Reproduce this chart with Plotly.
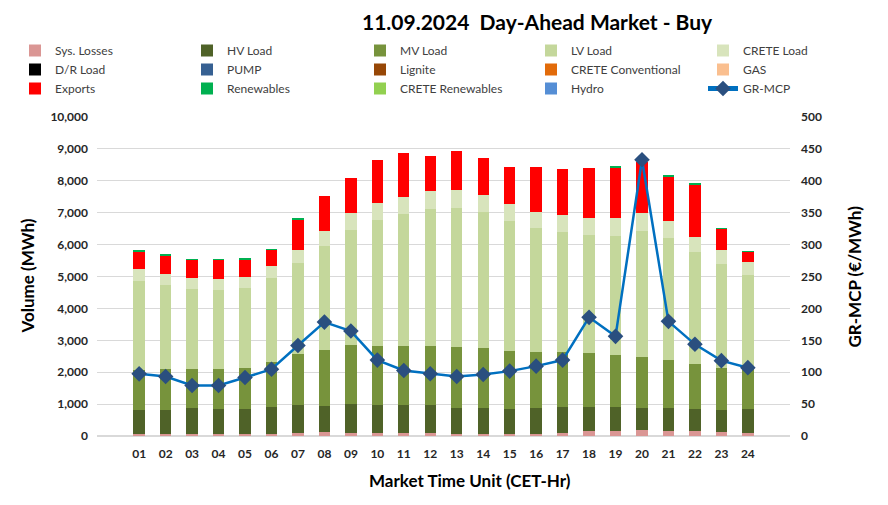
import plotly.graph_objects as go

hours = [f"{h:02d}" for h in range(1, 25)]

sys_losses = [55, 55, 55, 55, 55, 60, 90, 110, 90, 80, 80, 80, 75, 70, 70, 70, 80, 150, 170, 180, 160, 150, 130, 85]
hv_load = [762, 762, 825, 804, 783, 851, 884, 822, 916, 884, 895, 895, 816, 810, 779, 800, 821, 770, 729, 698, 707, 696, 685, 751]
mv_load = [1256, 1277, 1235, 1246, 1298, 1414, 1602, 1759, 1835, 1845, 1845, 1855, 1887, 1866, 1824, 1761, 1741, 1682, 1640, 1598, 1526, 1401, 1327, 1264]
lv_load = [2796, 2639, 2482, 2460, 2492, 2617, 2838, 3257, 3627, 3973, 4151, 4298, 4371, 4288, 4078, 3878, 3763, 3689, 3731, 3950, 3814, 3511, 3260, 2947]
crete_load = [367, 346, 356, 346, 356, 377, 418, 471, 524, 524, 534, 545, 555, 534, 524, 514, 524, 543, 564, 565, 533, 480, 439, 418]
dr_load = [0] * 24
pump = [0] * 24
lignite = [0] * 24
crete_conv = [0] * 24
gas = [0] * 24
exports = [555, 586, 565, 607, 545, 513, 964, 1089, 1111, 1352, 1352, 1111, 1216, 1153, 1163, 1405, 1446, 1557, 1578, 1588, 1390, 1651, 648, 303]
renewables = [40, 31, 21, 21, 31, 21, 31, 0, 0, 0, 0, 0, 0, 0, 0, 0, 0, 0, 31, 0, 31, 11, 31, 31]
crete_ren = [0] * 24
hydro = [0] * 24
gr_mcp = [97.4, 93.2, 79.1, 79.1, 91.6, 104.7, 141.9, 178.5, 164.5, 119.0, 102.7, 97.5, 93.3, 96.4, 101.7, 109.5, 119.0, 186.0, 156.2, 433.1, 179.7, 143.7, 118.1, 107.1]

series = [
    ("Sys. Losses", sys_losses, "#DA9694", "legend"),
    ("HV Load", hv_load, "#4F6228", "legend2"),
    ("MV Load", mv_load, "#77933C", "legend3"),
    ("LV Load", lv_load, "#C4D79B", "legend4"),
    ("CRETE Load", crete_load, "#D8E4BC", "legend5"),
    ("D/R Load", dr_load, "#000000", "legend"),
    ("PUMP", pump, "#366092", "legend2"),
    ("Lignite", lignite, "#974706", "legend3"),
    ("CRETE Conventional", crete_conv, "#E26B0A", "legend4"),
    ("GAS", gas, "#FABF8F", "legend5"),
    ("Exports", exports, "#FF0000", "legend"),
    ("Renewables", renewables, "#00B050", "legend2"),
    ("CRETE Renewables", crete_ren, "#92D050", "legend3"),
    ("Hydro", hydro, "#558ED5", "legend4"),
]

FONT = "Lato"
TXT = "#262626"

fig = go.Figure()
for name, vals, color, lg in series:
    fig.add_trace(go.Bar(
        x=hours, y=vals, name=name, marker=dict(color=color, line=dict(width=0)),
        legend=lg,
    ))

fig.add_trace(go.Scatter(
    x=hours, y=gr_mcp, name="GR-MCP", yaxis="y2", mode="lines+markers",
    line=dict(color="#0070C0", width=2.5),
    marker=dict(symbol="diamond", size=12, color="#2A4F7F"),
    legend="legend5",
))

L = 97
W = 693
H = 319
B = 436

def lx(px):
    return (px - L) / W

def ly(py):
    return (B - py) / H

leg_common = dict(
    orientation="v", yanchor="top", xanchor="left", y=ly(36),
    font=dict(family=FONT, size=12, color="#404040"), bgcolor="rgba(0,0,0,0)",
    tracegroupgap=0, itemsizing="constant", traceorder="normal",
)

fig.update_layout(
    width=888, height=505,
    margin=dict(l=L, r=888 - L - W, t=B - H, b=505 - B, autoexpand=False),
    paper_bgcolor="white", plot_bgcolor="white",
    barmode="stack", bargap=0.57,
    showlegend=True,
    legend=dict(x=lx(15), **leg_common),
    legend2=dict(x=lx(187), **leg_common),
    legend3=dict(x=lx(360), **leg_common),
    legend4=dict(x=lx(531), **leg_common),
    legend5=dict(x=lx(703), **leg_common),
    xaxis=dict(
        type="category", tickfont=dict(family=FONT, size=12, color=TXT, weight="bold"),
        showgrid=False, showline=False, ticks="", ticklabelstandoff=9,
    ),
    yaxis=dict(
        range=[0, 10000], dtick=1000, tickformat=",d",
        tickfont=dict(family=FONT, size=12, color=TXT, weight="bold"),
        gridcolor="#D9D9D9", gridwidth=1, zeroline=True, zerolinecolor="#D9D9D9",
        showline=False, ticks="", ticklabelstandoff=8,
    ),
    yaxis2=dict(
        range=[0, 500], dtick=50, overlaying="y", side="right",
        tickfont=dict(family=FONT, size=12, color=TXT, weight="bold"),
        showgrid=False, zeroline=False, showline=False, ticks="", ticklabelstandoff=10,
    ),
    annotations=[
        dict(text="<b>11.09.2024  Day-Ahead Market - Buy</b>", xref="paper", yref="paper",
             x=lx(537), y=ly(21), xanchor="center", yanchor="middle", showarrow=False,
             font=dict(family=FONT, size=21, color="#000000")),
        dict(text="<b>Volume (MWh)</b>", xref="paper", yref="paper",
             x=lx(27), y=0.5, xanchor="center", yanchor="middle", textangle=-90, showarrow=False,
             font=dict(family=FONT, size=17, color="#000000")),
        dict(text="<b>GR-MCP (€/MWh)</b>", xref="paper", yref="paper",
             x=lx(854), y=0.5, xanchor="center", yanchor="middle", textangle=-90, showarrow=False,
             font=dict(family=FONT, size=17, color="#000000")),
        dict(text="<b>Market Time Unit (CET-Hr)</b>", xref="paper", yref="paper",
             x=lx(470), y=ly(480), xanchor="center", yanchor="middle", showarrow=False,
             font=dict(family=FONT, size=17, color="#000000")),
    ],
)

fig.write_html("out.html", config={"displayModeBar": False},
               post_script="document.body.style.margin='0px';")
